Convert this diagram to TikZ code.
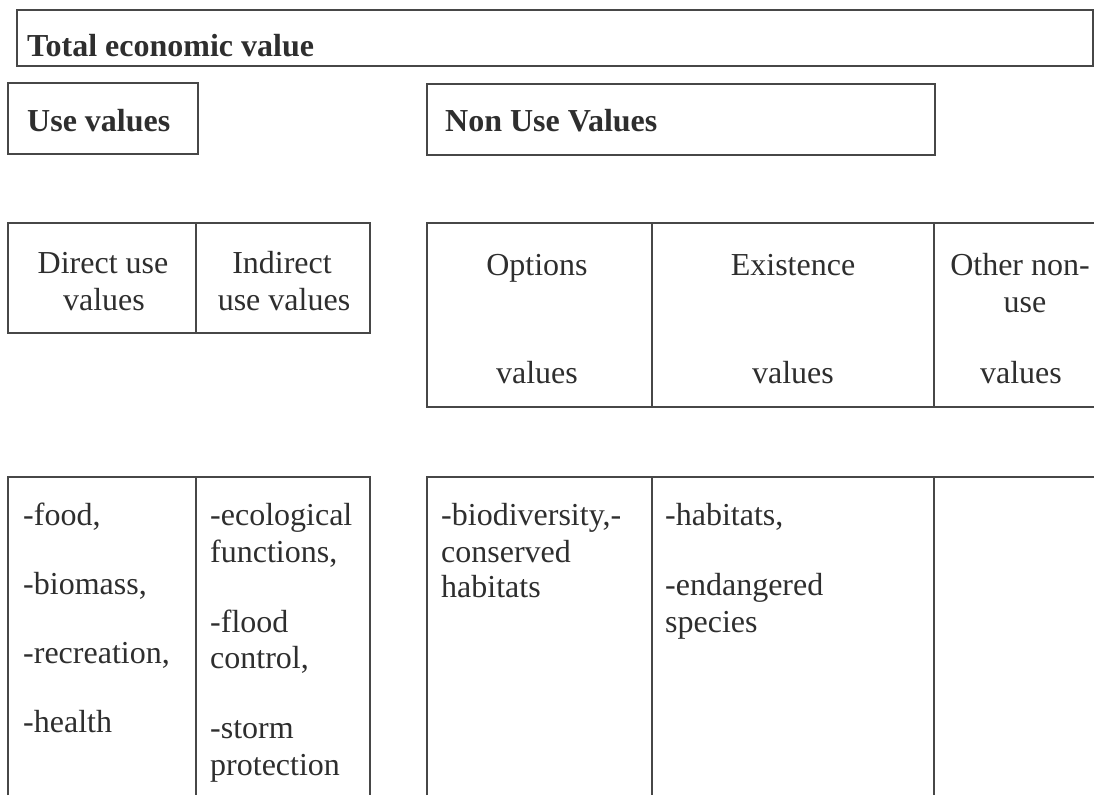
\documentclass[tikz,border=0pt]{standalone}
\usepackage{fontspec}
\setmainfont{Liberation Serif}
\begin{document}
\begin{tikzpicture}[x=1pt,y=-1pt,
  rule/.style={draw=black!72, line width=1.8pt},
  cell/.style={inner sep=0pt, text=black!82, font=\fontsize{32}{37}\selectfont},
  lbl/.style={cell, anchor=base west},
  ctr/.style={cell, anchor=base},
  head/.style={lbl, font=\fontsize{32}{37}\selectfont\bfseries}]
\useasboundingbox (0,0) rectangle (1094,795);

% ---- headline boxes ----
\draw[rule] (17,10) rectangle (1093,66);
\node[head] (tev) at (27,56) {Total economic value};
\draw[rule] (8,83) rectangle (198,154);
\node[head] (use) at (27,131) {Use values};
\draw[rule] (427,84) rectangle (935,155);
\node[head] (nonuse) at (445,131) {Non Use Values};

% ---- use value categories ----
\draw[rule] (8,223) rectangle (370,333);
\draw[rule] (196,223) -- (196,333);
\node[ctr] (direct1) at (103,273) {Direct use};
\node[ctr] (direct2) at (104,310) {values};
\node[ctr] (indirect1) at (282,273) {Indirect};
\node[ctr] (indirect2) at (284,310) {use values};

% ---- non-use value categories (open to the right) ----
\draw[rule] (1094,223) -- (427,223) -- (427,407) -- (1094,407);
\draw[rule] (652,223) -- (652,407);
\draw[rule] (934,223) -- (934,407);
\node[ctr] (opt1) at (537,275) {Options};
\node[ctr] (opt2) at (537,383) {values};
\node[ctr] (ex1) at (793,275) {Existence};
\node[ctr] (ex2) at (793,383) {values};
\node[ctr] (oth1) at (1020,275) {Other non-};
\node[ctr] (oth2) at (1025,312) {use};
\node[ctr] (oth3) at (1021,383) {values};

% ---- examples, use values ----
\draw[rule] (8,795) -- (8,477) -- (370,477) -- (370,795);
\draw[rule] (196,477) -- (196,795);
\node[lbl] (food) at (23,525) {-food,};
\node[lbl] (biomass) at (23,594) {-biomass,};
\node[lbl] (recreation) at (23,663) {-recreation,};
\node[lbl] (health) at (23,732) {-health};
\node[lbl] (eco1) at (210,525) {-ecological};
\node[lbl] (eco2) at (210,562) {functions,};
\node[lbl] (flood1) at (210,632) {-flood};
\node[lbl] (flood2) at (210,668) {control,};
\node[lbl] (storm1) at (210,738) {-storm};
\node[lbl] (storm2) at (210,775) {protection};

% ---- examples, non-use values ----
\draw[rule] (427,795) -- (427,477) -- (1094,477);
\draw[rule] (652,477) -- (652,795);
\draw[rule] (934,477) -- (934,795);
\node[lbl] (bio1) at (441,525) {-biodiversity,-};
\node[lbl] (bio2) at (441,562) {conserved};
\node[lbl] (bio3) at (441,597) {habitats};
\node[lbl] (hab) at (665,525) {-habitats,};
\node[lbl] (end1) at (665,595) {-endangered};
\node[lbl] (end2) at (665,632) {species};
\end{tikzpicture}
\end{document}
